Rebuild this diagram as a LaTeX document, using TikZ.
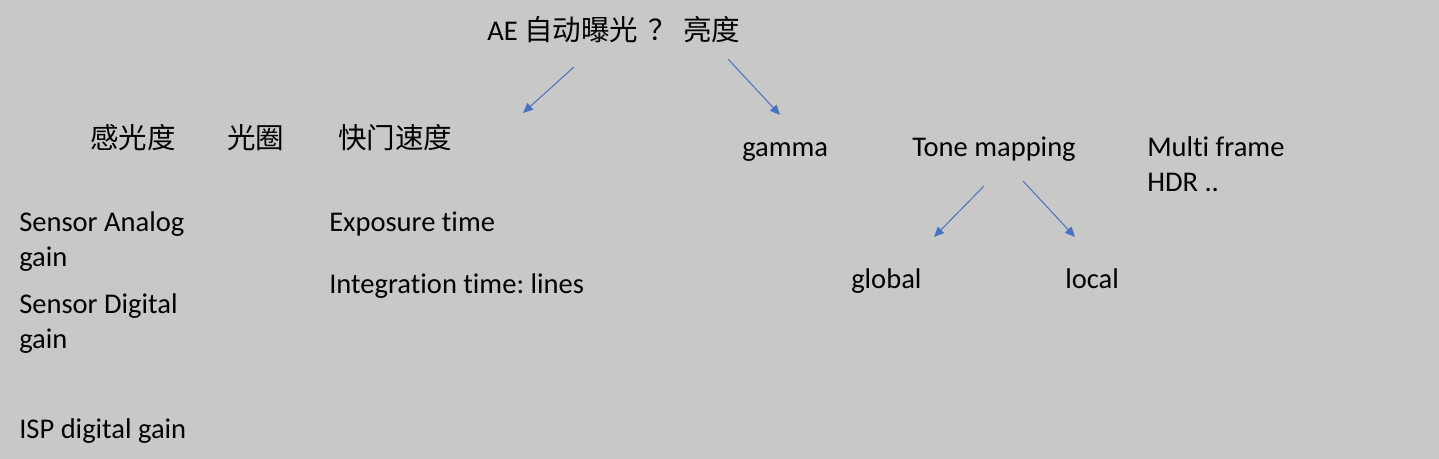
\documentclass[tikz,border=0pt]{standalone}
\usepackage{fontspec}
\setmainfont{Carlito}[Ligatures=NoCommon]
\newfontfamily\cjk{Noto Sans CJK SC}
\usetikzlibrary{arrows.meta}
\definecolor{slidegray}{RGB}{200,200,198}
\definecolor{arrowblue}{RGB}{68,114,196}
\tikzset{
  txt/.style={anchor=base west, inner sep=0pt, align=left, font=\fontsize{21.4}{26.3}\selectfont\frenchspacing},
  arr/.style={draw=arrowblue, line width=0.75pt, -{Triangle[length=7.5pt,width=6.5pt]}}
}

\begin{document}
\begin{tikzpicture}[x=0.75pt,y=0.75pt,yscale=-1,xscale=1]
%background, sets the size of the slide
\fill [slidegray] (0,0) rectangle (1439,459);
\useasboundingbox (0,0) rectangle (1439,459);

% Text Node
\node [txt] (ae) at (487,41) {AE {\cjk 自动曝光\hspace{7.5pt}？ 亮度}};
% Text Node
\node [txt] (iso) at (90,149) {\cjk 感光度};
% Text Node
\node [txt] (aperture) at (227,149) {\cjk 光圈};
% Text Node
\node [txt] (shutter) at (338,149) {\cjk 快门速度};
% Text Node
\node [txt] (gamma) at (742,157) {gamma};
% Text Node
\node [txt] (tone) at (912,157) {Tone mapping};
% Text Node (base is the last line)
\node [txt] (hdr) at (1147,192) {Multi frame\\HDR ..};
% Text Node
\node [txt] (again) at (19,267) {Sensor Analog\\gain};
% Text Node
\node [txt] (dgain) at (19,349) {Sensor Digital\\gain};
% Text Node
\node [txt] (ispgain) at (19,439) {ISP digital gain};
% Text Node
\node [txt] (exptime) at (329,232) {Exposure time};
% Text Node
\node [txt] (inttime) at (329,294) {Integration time: lines};
% Text Node
\node [txt] (global) at (851,289) {global};
% Text Node
\node [txt] (local) at (1065,289) {local};

%arrow ends
\coordinate (aeL) at (574,67);
\coordinate (aeLtip) at (523,113);
\coordinate (aeR) at (728,59);
\coordinate (aeRtip) at (780,115);
\coordinate (tmL) at (984,186);
\coordinate (tmLtip) at (934,237);
\coordinate (tmR) at (1023,181);
\coordinate (tmRtip) at (1075,237);

% Arrows
\draw [arr] (aeL) -- (aeLtip);
\draw [arr] (aeR) -- (aeRtip);
\draw [arr] (tmL) -- (tmLtip);
\draw [arr] (tmR) -- (tmRtip);

\end{tikzpicture}
\end{document}
